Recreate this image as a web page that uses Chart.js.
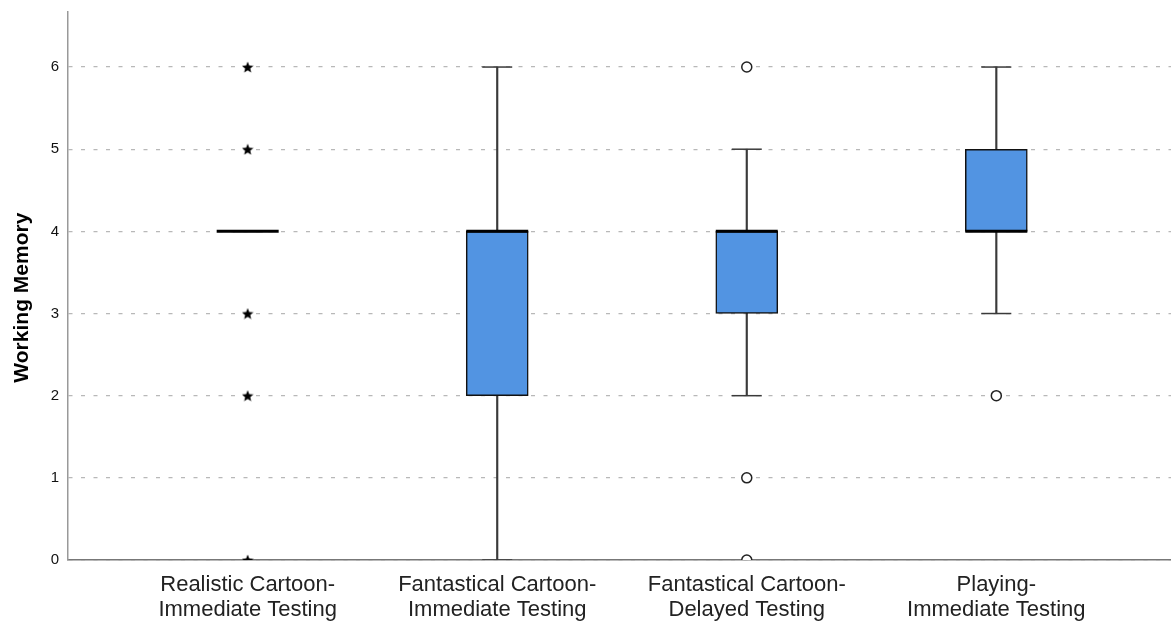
<!DOCTYPE html>
<html>
<head>
<meta charset="utf-8">
<script src="https://cdn.jsdelivr.net/npm/chart.js@4/dist/chart.umd.min.js"></script>
<style>
    html, body { margin: 0; padding: 0; background: #fff; }
</style>
</head>
<body>
<canvas id="chart_working-memory" width="1171" height="621"></canvas>
<script>
// data
var categories = [
    ['Realistic Cartoon-', 'Immediate Testing'],
    ['Fantastical Cartoon-', 'Immediate Testing'],
    ['Fantastical Cartoon-', 'Delayed Testing'],
    ['Playing-', 'Immediate Testing']
];
var whiskerLow = [4, 0, 2, 3];
var quartile1 = [4, 2, 3, 4];
var medians = [4, 4, 4, 4];
var quartile3 = [4, 4, 4, 5];
var whiskerHigh = [4, 6, 5, 6];
var circleOutliers = [[], [], [6, 1, 0], [2]];
var starOutliers = [[6, 5, 3, 2, 0], [], [], []];
var yTicks = [0, 1, 2, 3, 4, 5, 6];

var BoxPlotChart = (function () {
    var $canvas = document.getElementById('chart_working-memory');

    //helpers
    var rangePoints = function (lo, hi) {
        return lo.map(function (v, i) { return { x: i + 1, y: [v, hi[i]] }; });
    };
    var valuePoints = function (values) {
        return values.map(function (v, i) { return { x: i + 1, y: v }; });
    };
    var outlierPoints = function (groups) {
        var pts = [];
        groups.forEach(function (g, i) {
            g.forEach(function (v) { pts.push({ x: i + 1, y: v }); });
        });
        return pts;
    };
    // SPSS marks extreme values with a small filled star
    var starImage = function (size) {
        var c = document.createElement('canvas');
        c.width = size;
        c.height = size;
        var ctx = c.getContext('2d');
        var r = size / 2, ri = r * 0.45;
        ctx.beginPath();
        for (var k = 0; k < 10; k++) {
            var rad = (k % 2 ? ri : r);
            var a = -Math.PI / 2 + k * Math.PI / 5;
            ctx.lineTo(r + rad * Math.cos(a), r + 0.6 + rad * Math.sin(a));
        }
        ctx.closePath();
        ctx.fillStyle = '#000';
        ctx.fill();
        return c;
    };

    var init = function () {
        var font = 'Liberation Sans, Arial, sans-serif';
        new Chart($canvas, {
            type: 'bar',
            data: {
                datasets: [{
                    // whisker stems
                    type: 'bar',
                    data: rangePoints(whiskerLow, whiskerHigh),
                    backgroundColor: '#3a3a3a',
                    barThickness: 1.5,
                    grouped: false,
                    order: 4
                }, {
                    // boxes
                    type: 'bar',
                    data: rangePoints(quartile1, quartile3),
                    backgroundColor: '#5294e2',
                    borderColor: '#111',
                    borderWidth: 1.5,
                    borderSkipped: false,
                    barThickness: 62,
                    grouped: false,
                    order: 3
                }, {
                    // whisker caps
                    type: 'line',
                    data: valuePoints(whiskerLow).concat(valuePoints(whiskerHigh)),
                    showLine: false,
                    pointStyle: 'line',
                    pointRadius: 15,
                    pointBorderWidth: 1.5,
                    pointBorderColor: '#3a3a3a',
                    order: 2
                }, {
                    // medians
                    type: 'line',
                    data: valuePoints(medians),
                    showLine: false,
                    pointStyle: 'line',
                    pointRadius: 31,
                    pointBorderWidth: 3,
                    pointBorderColor: '#000',
                    order: 1
                }, {
                    type: 'line',
                    data: outlierPoints(circleOutliers),
                    showLine: false,
                    pointStyle: 'circle',
                    pointRadius: 5,
                    pointBorderWidth: 1.5,
                    pointBorderColor: '#222',
                    pointBackgroundColor: '#fff',
                    order: 0
                }, {
                    type: 'line',
                    data: outlierPoints(starOutliers),
                    showLine: false,
                    pointStyle: starImage(12),
                    pointRadius: 6,
                    order: 0
                }]
            },
            options: {
                responsive: false,
                animation: false,
                events: [],
                layout: { autoPadding: false, padding: { top: 12, right: 0, bottom: 0, left: 0 } },
                plugins: {
                    legend: { display: false },
                    tooltip: { enabled: false }
                },
                scales: {
                    x: {
                        type: 'linear',
                        offset: false,
                        min: 0.28,
                        max: 4.7,
                        grid: { display: false },
                        border: { color: '#777', width: 1.5 },
                        afterBuildTicks: function (axis) {
                            axis.ticks = categories.map(function (c, i) { return { value: i + 1 }; });
                        },
                        afterFit: function (axis) {
                            axis.height = 61;
                            axis.paddingLeft = 0;
                            axis.paddingRight = 0;
                        },
                        ticks: {
                            color: '#222',
                            padding: 5,
                            maxRotation: 0,
                            autoSkip: false,
                            font: { family: font, size: 22, lineHeight: 1.13 },
                            callback: function (value) { return categories[value - 1]; }
                        }
                    },
                    y: {
                        min: 0,
                        max: 6.67,
                        grid: { color: '#b8b8b8', lineWidth: 1.2, drawTicks: false },
                        border: { color: '#999', width: 1.5, dash: [4, 8.5] },
                        afterBuildTicks: function (axis) {
                            axis.ticks = yTicks.map(function (v) { return { value: v }; });
                        },
                        afterFit: function (axis) {
                            axis.width = 68;
                            axis.paddingTop = 0;
                            axis.paddingBottom = 0;
                        },
                        ticks: {
                            color: '#111',
                            padding: 9,
                            font: { family: font, size: 15 }
                        },
                        title: {
                            display: true,
                            // trailing spaces nudge the title a little below centre, like SPSS
                            text: 'Working Memory    ',
                            color: '#000',
                            padding: { top: 10, bottom: 0 },
                            font: { family: font, size: 21, weight: 'bold' }
                        }
                    }
                }
            }
        });
    };

    init();
    return {};
})();
</script>
</body>
</html>
